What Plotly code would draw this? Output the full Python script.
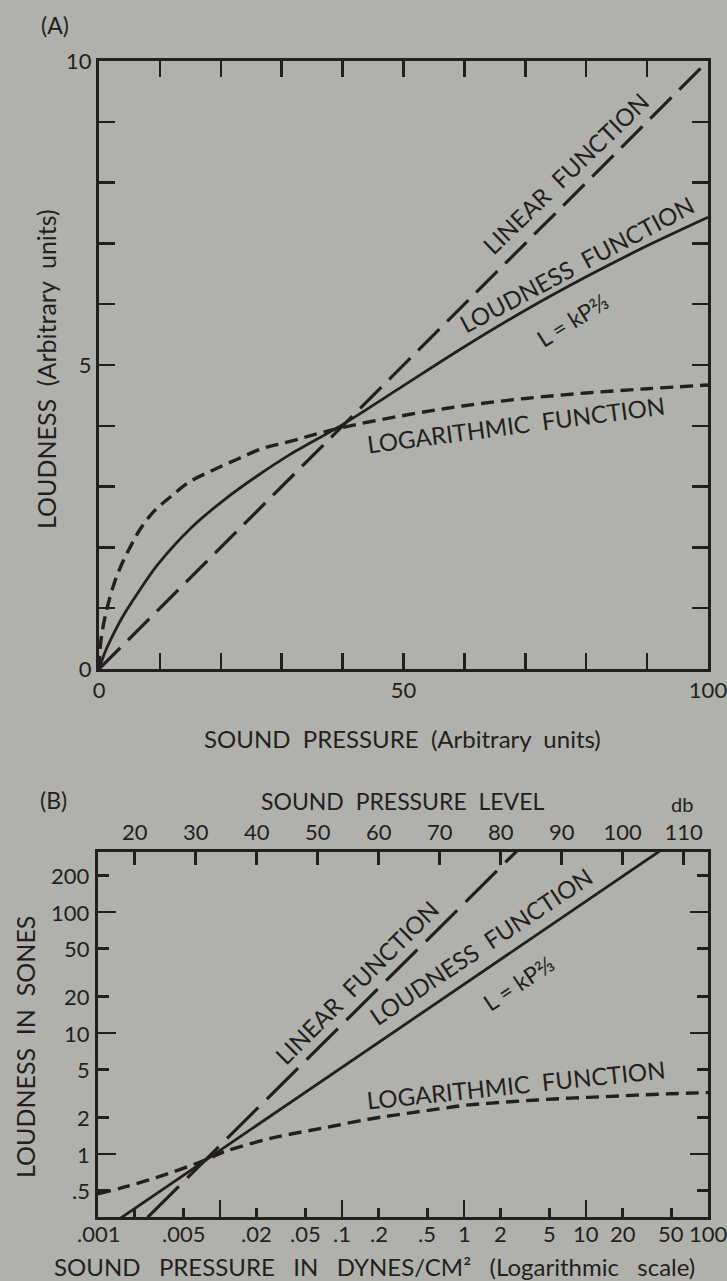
import math
import plotly.graph_objects as go

W, H = 727, 1281
INK = "#231f20"
BG = "#b0b1ac"
FONT = "Lato"

# ---------------- Panel A data (arbitrary units) ----------------
a_linear_p = [0, 100]
a_linear_l = [0, 10]

a_loud_p = [0, 1, 2, 4, 6.7, 9.5, 14.9, 20.4, 25.9, 31.4, 40, 50, 60, 70, 80, 90, 100]
a_loud_l = [0, 0.28, 0.5, 0.88, 1.30, 1.70, 2.30, 2.77, 3.17, 3.53, 4.02, 4.66, 5.30, 5.90, 6.45, 6.96, 7.43]

a_log_p = [0, 0.3, 1, 2.3, 3.8, 5.1, 6.7, 8.9, 11.7, 14.9, 18.7, 22.7, 26.9, 30.9, 39, 50, 60, 70, 80, 90, 100]
a_log_l = [0, 0.45, 0.86, 1.35, 1.74, 2.0, 2.29, 2.58, 2.83, 3.08, 3.27, 3.45, 3.63, 3.73, 3.95, 4.17, 4.33, 4.45, 4.54, 4.61, 4.67]

a_xticks = [0, 50, 100]
a_xlabels = ["0", "50", "100"]
a_xminor = [10, 20, 30, 40, 60, 70, 80, 90]
a_yticks = [0, 5, 10]
a_ylabels = ["0", "5", "10"]
a_yminor = [1, 2, 3, 4, 6, 7, 8, 9]

# ---------------- Panel B data (dynes/cm^2, sones) ----------------
b_linear_p = [0.00255, 0.0085, 0.085, 0.85, 3.0]
b_linear_l = [0.3, 1, 10, 100, 353]

b_loud_p = [0.0012, 0.009, 0.09, 0.9, 9, 60]
b_loud_l = [0.25, 1, 4.86, 23.6, 115, 420]

b_log_p = [0.001, 0.0016, 0.003, 0.0057, 0.0083, 0.011, 0.027, 0.07, 0.17, 0.32, 0.6, 1.1, 2.1, 4, 7.4, 14, 26, 49, 100]
b_log_l = [0.47, 0.53, 0.64, 0.80, 0.93, 1.05, 1.36, 1.64, 1.95, 2.15, 2.35, 2.55, 2.68, 2.80, 2.90, 2.98, 3.07, 3.15, 3.22]

b_xmajor = [0.001, 0.01, 0.1, 1, 10, 100]
b_xminor = [0.002, 0.005, 0.02, 0.05, 0.2, 0.5, 2, 5, 20, 50]
b_xlabel_vals = [0.001, 0.005, 0.02, 0.05, 0.1, 0.2, 0.5, 1, 2, 5, 10, 20, 50, 100]
b_xlabels = [".001", ".005", ".02", ".05", ".1", ".2", ".5", "1", "2", "5", "10", "20", "50", "100"]
b_db_ticks = [20, 30, 40, 50, 60, 70, 80, 90, 100, 110]
b_ymajor = [1, 10, 100]
b_yminor = [0.5, 2, 5, 20, 50, 200]
b_ylabel_vals = [0.5, 1, 2, 5, 10, 20, 50, 100, 200]
b_ylabels = [".5", "1", "2", "5", "10", "20", "50", "100", "200"]


def px(x):
    return x / W


def py(y):
    return 1 - y / H


fig = go.Figure()

# Panel A traces
fig.add_trace(go.Scatter(x=a_linear_p, y=a_linear_l, mode="lines", xaxis="x", yaxis="y",
                         line=dict(color=INK, width=3.2, dash="30px,11px")))
fig.add_trace(go.Scatter(x=a_loud_p, y=a_loud_l, mode="lines", xaxis="x", yaxis="y",
                         line=dict(color=INK, width=2.8, shape="spline", smoothing=0.8)))
fig.add_trace(go.Scatter(x=a_log_p, y=a_log_l, mode="lines", xaxis="x", yaxis="y",
                         line=dict(color=INK, width=3.4, dash="13px,7px", shape="spline")))

# Panel B traces
fig.add_trace(go.Scatter(x=b_linear_p, y=b_linear_l, mode="lines", xaxis="x3", yaxis="y3",
                         line=dict(color=INK, width=3.2, dash="44px,12px")))
fig.add_trace(go.Scatter(x=b_loud_p, y=b_loud_l, mode="lines", xaxis="x3", yaxis="y3",
                         line=dict(color=INK, width=2.8)))
fig.add_trace(go.Scatter(x=b_log_p, y=b_log_l, mode="lines", xaxis="x3", yaxis="y3",
                         line=dict(color=INK, width=3.4, dash="13px,7px", shape="spline")))
# invisible trace to activate dB axis
fig.add_trace(go.Scatter(x=[20, 110], y=[1, 1], mode="lines", xaxis="x4", yaxis="y3",
                         line=dict(width=0), hoverinfo="skip"))

tickfont = dict(family=FONT, size=22, color=INK)
axis_common = dict(showgrid=False, zeroline=False, showline=True, linecolor=INK, linewidth=3,
                   ticks="inside", tickcolor=INK, tickwidth=2.5, tickfont=tickfont,
                   automargin=False, fixedrange=True, ticklabeloverflow="allow")


def minor(vals, length):
    return dict(tickmode="array", tickvals=vals, ticklen=length, ticks="inside",
                tickcolor=INK, tickwidth=2.5)


fig.update_layout(
    width=W, height=H, autosize=False,
    margin=dict(l=0, r=0, t=0, b=0, autoexpand=False),
    paper_bgcolor=BG, plot_bgcolor=BG,
    showlegend=False,
    font=dict(family=FONT, color=INK),
    xaxis=dict(domain=[px(99), px(708)], anchor="y", range=[0, 100], mirror="ticks",
               tickmode="array", tickvals=a_xticks, ticktext=a_xlabels, ticklen=16,
               minor=minor(a_xminor, 16), **axis_common),
    yaxis=dict(domain=[py(669), py(61)], anchor="x", range=[0, 10], mirror="ticks",
               tickmode="array", tickvals=a_yticks, ticktext=a_ylabels, ticklen=16,
               minor=minor(a_yminor, 16), **axis_common),
    xaxis3=dict(domain=[px(98), px(708)], anchor="y3", type="log", range=[-3, 2],
                tickmode="array", tickvals=b_xmajor, ticklen=17, showticklabels=False,
                minor=minor(b_xminor, 9), **axis_common),
    xaxis4=dict(overlaying="x3", anchor="y3", side="top", range=[13.98, 113.98],
                tickmode="array", tickvals=b_db_ticks, ticklen=13, **axis_common),
    yaxis3=dict(domain=[py(1217), py(852)], anchor="x3", type="log", range=[-0.52, 2.496],
                mirror="ticks", tickmode="array", tickvals=b_ymajor, ticklen=18,
                showticklabels=False, minor=minor(b_yminor, 11), **axis_common),
)

ann = []


def text(x, y, s, size=21, angle=0, xanchor="center"):
    ann.append(dict(x=px(x), y=py(y), xref="paper", yref="paper", text=s, showarrow=False,
                    textangle=angle, xanchor=xanchor, yanchor="middle",
                    font=dict(family=FONT, size=size, color=INK)))


# Panel B axis labels placed through the axes' own coordinates
for v, s in zip(b_xlabel_vals, b_xlabels):
    ann.append(dict(x=math.log10(v), y=py(1233), xref="x3", yref="paper", text=s,
                    showarrow=False, xanchor="center", yanchor="middle",
                    font=dict(family=FONT, size=22, color=INK)))
for v, s in zip(b_ylabel_vals, b_ylabels):
    ann.append(dict(x=px(92), y=math.log10(v), xref="paper", yref="y3", text=s,
                    showarrow=False, xanchor="right", yanchor="middle",
                    font=dict(family=FONT, size=22, color=INK)))

# Panel A texts
text(55, 25, "(A)", 23)
text(402, 738, "SOUND  PRESSURE  (Arbitrary  units)", 24)
text(46, 369, "LOUDNESS  (Arbitrary  units)", 25, angle=-90)
text(565, 173, "LINEAR  FUNCTION", 24, angle=-44)
text(576, 264, "LOUDNESS  FUNCTION", 24, angle=-28)
text(572, 320, "L = kP\u2154", 23, angle=-32)
text(516, 425, "LOGARITHMIC  FUNCTION", 24, angle=-7.5)

# Panel B texts
text(53, 800, "(B)", 23)
text(402, 801, "SOUND  PRESSURE  LEVEL", 23)
text(682, 804, "db", 20)
text(374, 1266, "SOUND   PRESSURE   IN   DYNES/CM\u00b2   (Logarithmic   scale)", 24)
text(25, 1047, "LOUDNESS  IN  SONES", 25, angle=-90)
text(356, 982, "LINEAR  FUNCTION", 24, angle=-45)
text(480, 946, "LOUDNESS  FUNCTION", 24, angle=-33.7)
text(518, 983, "L = kP\u2154", 23, angle=-33.7)
text(516, 1084, "LOGARITHMIC  FUNCTION", 24, angle=-6)

fig.update_layout(annotations=ann)

fig.write_html(
    "out.html",
    config={"displayModeBar": False, "staticPlot": True},
    post_script="document.body.style.margin='0';document.body.style.padding='0';"
                "document.body.style.background='" + BG + "';"
                "document.documentElement.style.background='" + BG + "';",
)
